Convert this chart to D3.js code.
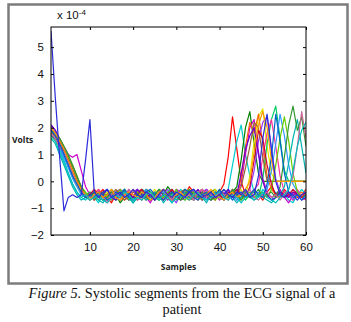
<!DOCTYPE html>
<html>
<head>
<meta charset="utf-8">
<script src="https://cdn.jsdelivr.net/npm/d3@7"></script>
<style>
  html, body { margin: 0; padding: 0; background: #fff; }
  #chart { width: 351px; height: 322px; }
</style>
</head>
<body>
<div id="chart"></div>
<script>
// Samples 1..60, values in units of 1e-4 V
const samples = d3.range(1, 61);
const xTicks = [10, 20, 30, 40, 50, 60];
const yTicks = [-2, -1, 0, 1, 2, 3, 4, 5];

const seriesColors = [
  '#ff0000', '#00cccc', '#008000', '#cc00cc', '#e6e600', '#ff6600', '#9933ff',
  '#00cc66', '#ff3399', '#3399ff', '#996633', '#66cc00', '#cc0033', '#00b3b3',
  '#6600cc', '#339933', '#cc6699', '#0066cc', '#ff9900', '#00bfbf', '#2b2bd9'
];

const s01 = [2.0,1.8,1.5,1.1,0.7,0.3,-0.1,-0.4,-0.6,-0.4, -0.7,-0.5,-0.3,-0.6,-0.8,-0.5,-0.3,-0.5,-0.7,-0.6, -0.4,-0.3,-0.6,-0.7,-0.5,-0.3,-0.5,-0.6,-0.4,-0.5, -0.7,-0.5,-0.2,-0.4,-0.6,-0.5,-0.3,-0.5,-0.7,-0.4, -0.1,0.9,2.4,1.2,0.0,-0.5,-0.6,-0.3,-0.5,-0.7, -0.4,-0.2,-0.5,-0.6,-0.3,-0.5,-0.4,-0.6,-0.5,-0.3];
const s02 = [1.9,1.6,1.2,0.8,0.3,-0.1,-0.4,-0.6,-0.7,-0.5, -0.6,-0.8,-0.5,-0.4,-0.6,-0.7,-0.4,-0.3,-0.6,-0.8, -0.6,-0.4,-0.5,-0.7,-0.6,-0.3,-0.4,-0.6,-0.8,-0.5, -0.3,-0.5,-0.6,-0.4,-0.6,-0.7,-0.5,-0.4,-0.6,-0.5, -0.6,-0.3,0.6,1.5,2.1,1.0,0.2,-0.4,-0.6,-0.3, -0.5,-0.7,-0.4,-0.6,-0.5,-0.7,-0.8,-0.5,-0.3,-0.5];
const s03 = [1.8,1.7,1.4,1.1,0.7,0.3,0.0,-0.3,-0.5,-0.6, -0.4,-0.6,-0.7,-0.5,-0.3,-0.5,-0.8,-0.6,-0.4,-0.5, -0.7,-0.5,-0.3,-0.4,-0.6,-0.7,-0.5,-0.2,-0.4,-0.6, -0.5,-0.3,-0.6,-0.7,-0.4,-0.5,-0.6,-0.4,-0.3,-0.6, -0.7,-0.5,-0.4,-0.2,0.8,2.0,2.6,1.4,0.3,0.0, 0.0,0.0,0.0,0.0,0.0,0.0,0.0,0.0,0.0,0.0];
const s04 = [2.1,1.9,1.6,1.3,1.0,0.9,1.0,0.4,-0.2,-0.5, -0.6,-0.4,-0.5,-0.7,-0.6,-0.4,-0.3,-0.5,-0.7,-0.6, -0.5,-0.4,-0.6,-0.8,-0.5,-0.4,-0.5,-0.7,-0.6,-0.3, -0.4,-0.6,-0.5,-0.3,-0.5,-0.7,-0.6,-0.4,-0.5,-0.7, -0.5,-0.3,-0.6,-0.4,-0.1,1.0,2.0,2.3,1.1,0.1, -0.4,-0.6,-0.5,-0.3,-0.6,-0.8,-0.5,-0.4,-0.6,-0.5];
const s05 = [1.7,1.5,1.3,1.0,0.6,0.2,-0.2,-0.4,-0.6,-0.5, -0.3,-0.5,-0.6,-0.4,-0.5,-0.7,-0.5,-0.3,-0.5,-0.6, -0.4,-0.6,-0.7,-0.5,-0.3,-0.5,-0.6,-0.4,-0.5,-0.7, -0.6,-0.4,-0.3,-0.5,-0.7,-0.6,-0.4,-0.5,-0.3,-0.6, -0.5,-0.7,-0.4,-0.5,-0.3,-0.6,0.2,1.5,2.4,2.7, 1.3,0.3,0.0,0.0,0.0,0.0,0.0,0.0,0.0,0.0];
const s06 = [1.9,1.8,1.5,1.2,0.9,0.5,0.1,-0.3,-0.5,-0.6, -0.5,-0.3,-0.5,-0.7,-0.5,-0.4,-0.6,-0.7,-0.5,-0.3, -0.5,-0.6,-0.4,-0.5,-0.7,-0.5,-0.3,-0.6,-0.7,-0.5, -0.4,-0.5,-0.7,-0.6,-0.4,-0.3,-0.5,-0.6,-0.5,-0.4, -0.6,-0.5,-0.3,-0.5,0.1,1.3,2.2,1.8,2.5,1.4, 0.2,-0.3,-0.5,-0.6,-0.4,-0.5,-0.7,-0.5,-0.4,-0.6];
const s07 = [2.0,1.7,1.3,0.9,0.6,0.2,-0.1,-0.3,-0.5,-0.7, -0.6,-0.4,-0.6,-0.5,-0.7,-0.6,-0.4,-0.5,-0.6,-0.4, -0.3,-0.5,-0.7,-0.6,-0.4,-0.6,-0.5,-0.3,-0.6,-0.8, -0.5,-0.4,-0.6,-0.5,-0.7,-0.4,-0.3,-0.5,-0.6,-0.5, -0.4,-0.6,-0.5,-0.7,-0.4,-0.5,-0.3,0.4,1.5,2.2, 2.4,1.2,0.1,-0.4,-0.6,-0.5,-0.7,-0.4,-0.6,-0.5];
const s08 = [1.8,1.6,1.4,1.0,0.7,0.4,0.0,-0.3,-0.5,-0.4, -0.6,-0.7,-0.5,-0.3,-0.5,-0.6,-0.5,-0.4,-0.7,-0.6, -0.5,-0.3,-0.4,-0.6,-0.5,-0.7,-0.6,-0.4,-0.3,-0.5, -0.6,-0.7,-0.5,-0.4,-0.5,-0.3,-0.6,-0.7,-0.5,-0.4, -0.5,-0.6,-0.4,-0.3,-0.5,-0.7,-0.5,-0.4,-0.6,0.1, 1.4,2.3,2.8,1.6,0.4,0.0,0.0,0.0,0.0,0.0];
const s09 = [1.9,1.7,1.4,1.2,0.8,0.5,0.1,-0.2,-0.5,-0.6, -0.5,-0.3,-0.6,-0.8,-0.6,-0.4,-0.5,-0.6,-0.3,-0.5, -0.7,-0.6,-0.4,-0.5,-0.6,-0.4,-0.7,-0.5,-0.3,-0.5, -0.6,-0.5,-0.4,-0.7,-0.5,-0.3,-0.5,-0.6,-0.4,-0.6, -0.7,-0.5,-0.3,-0.5,-0.6,-0.4,-0.5,-0.3,-0.1,0.9, 1.8,2.3,1.3,0.2,-0.4,-0.6,-0.5,-0.3,-0.6,-0.7];
const s10 = [1.8,1.6,1.3,0.9,0.5,0.1,-0.2,-0.5,-0.6,-0.5, -0.4,-0.6,-0.7,-0.5,-0.4,-0.6,-0.5,-0.3,-0.5,-0.7, -0.6,-0.5,-0.3,-0.6,-0.7,-0.5,-0.4,-0.5,-0.6,-0.4, -0.5,-0.6,-0.4,-0.3,-0.6,-0.5,-0.7,-0.5,-0.4,-0.6, -0.5,-0.3,-0.5,-0.7,-0.6,-0.4,-0.5,-0.6,-0.4,-0.5, -0.3,0.4,1.4,2.5,1.7,0.6,-0.1,-0.4,-0.6,-0.5];
const s11 = [1.8,1.7,1.5,1.2,0.9,0.6,0.2,-0.2,-0.5,-0.5, -0.7,-0.5,-0.4,-0.6,-0.5,-0.3,-0.5,-0.7,-0.6,-0.4, -0.5,-0.7,-0.5,-0.4,-0.6,-0.5,-0.3,-0.5,-0.7,-0.6, -0.4,-0.3,-0.5,-0.6,-0.5,-0.7,-0.4,-0.5,-0.6,-0.3, -0.5,-0.6,-0.4,-0.5,-0.2,0.5,1.3,2.2,2.0,0.9, 0.0,0.0,0.0,0.0,0.0,0.0,0.0,0.0,0.0,0.0];
const s12 = [2.0,1.8,1.6,1.3,0.9,0.5,0.1,-0.2,-0.4,-0.6, -0.5,-0.6,-0.4,-0.6,-0.7,-0.5,-0.3,-0.6,-0.5,-0.6, -0.4,-0.5,-0.6,-0.4,-0.5,-0.7,-0.6,-0.4,-0.5,-0.3, -0.6,-0.7,-0.5,-0.4,-0.5,-0.6,-0.4,-0.6,-0.7,-0.5, -0.3,-0.5,-0.6,-0.4,-0.7,-0.5,-0.4,-0.6,-0.5,-0.4, -0.6,-0.3,0.6,1.6,2.4,1.5,0.3,-0.4,-0.6,-0.5];
const s13 = [1.7,1.6,1.3,1.1,0.8,0.4,0.0,-0.3,-0.6,-0.5, -0.3,-0.5,-0.6,-0.5,-0.4,-0.6,-0.7,-0.5,-0.4,-0.6, -0.5,-0.3,-0.5,-0.6,-0.4,-0.5,-0.7,-0.5,-0.3,-0.6, -0.5,-0.4,-0.6,-0.7,-0.5,-0.4,-0.5,-0.6,-0.4,-0.5, -0.7,-0.4,-0.5,-0.3,-0.5,-0.6,-0.2,0.8,1.9,1.6, 0.6,-0.1,-0.5,-0.4,-0.6,-0.5,-0.3,-0.5,-0.6,-0.4];
const s14 = [1.6,1.4,1.0,0.6,0.2,-0.2,-0.5,-0.7,-0.6,-0.7, -0.5,-0.7,-0.8,-0.6,-0.5,-0.7,-0.6,-0.4,-0.6,-0.8, -0.6,-0.5,-0.7,-0.6,-0.4,-0.5,-0.8,-0.6,-0.5,-0.7, -0.6,-0.4,-0.6,-0.7,-0.5,-0.6,-0.8,-0.5,-0.4,-0.6, -0.7,-0.5,-0.6,-0.8,-0.6,-0.4,-0.6,-0.7,-0.5,-0.6, -0.7,-0.8,-0.6,-0.5,-0.2,0.7,1.6,2.3,1.3,0.3];
const s15 = [2.1,1.9,1.5,1.2,0.8,0.4,0.0,-0.4,-0.6,-0.5, -0.4,-0.6,-0.5,-0.3,-0.6,-0.7,-0.5,-0.4,-0.5,-0.6, -0.3,-0.5,-0.6,-0.5,-0.7,-0.4,-0.5,-0.6,-0.4,-0.5, -0.7,-0.6,-0.4,-0.5,-0.3,-0.5,-0.6,-0.7,-0.5,-0.4, -0.5,-0.3,-0.6,-0.5,0.3,1.2,1.7,2.0,1.0,0.0, -0.5,-0.7,-0.6,-0.4,-0.5,-0.6,-0.4,-0.5,-0.7,-0.6];
const s16 = [1.9,1.8,1.6,1.3,1.0,0.6,0.2,-0.2,-0.5,-0.6, -0.4,-0.5,-0.7,-0.6,-0.4,-0.5,-0.6,-0.3,-0.5,-0.7, -0.5,-0.4,-0.6,-0.7,-0.5,-0.3,-0.5,-0.6,-0.4,-0.6, -0.7,-0.5,-0.3,-0.5,-0.6,-0.4,-0.5,-0.7,-0.6,-0.4, -0.5,-0.6,-0.3,-0.5,-0.7,-0.4,-0.6,-0.5,-0.3,-0.6, -0.5,-0.4,-0.6,-0.2,0.9,2.1,2.8,1.9,2.4,1.3];
const s17 = [1.8,1.6,1.3,1.1,0.7,0.3,-0.1,-0.4,-0.5,-0.6, -0.5,-0.4,-0.6,-0.7,-0.5,-0.4,-0.6,-0.5,-0.3,-0.5, -0.6,-0.7,-0.4,-0.5,-0.6,-0.5,-0.3,-0.5,-0.7,-0.5, -0.4,-0.6,-0.5,-0.7,-0.4,-0.3,-0.6,-0.5,-0.6,-0.4, -0.5,-0.7,-0.5,-0.6,-0.4,-0.5,-0.3,-0.6,-0.7,-0.5, -0.4,-0.6,-0.5,-0.7,-0.5,-0.3,0.2,1.3,2.6,1.6];
const s18 = [1.9,1.7,1.4,1.0,0.6,0.2,-0.1,-0.4,-0.6,-0.5, -0.6,-0.4,-0.5,-0.7,-0.6,-0.4,-0.5,-0.3,-0.6,-0.7, -0.5,-0.6,-0.4,-0.3,-0.5,-0.6,-0.7,-0.5,-0.4,-0.6, -0.5,-0.3,-0.4,-0.6,-0.7,-0.5,-0.4,-0.6,-0.5,-0.3, -0.6,-0.5,-0.7,-0.5,-0.4,-0.6,-0.5,-0.3,-0.5,-0.6, -0.1,0.9,2.5,1.5,0.3,-0.4,-0.6,-0.5,-0.7,-0.5];
const s19 = [2.0,1.8,1.5,1.2,0.8,0.4,0.0,-0.3,-0.5,-0.7, -0.5,-0.4,-0.6,-0.5,-0.3,-0.6,-0.7,-0.5,-0.4,-0.5, -0.6,-0.4,-0.5,-0.7,-0.6,-0.4,-0.3,-0.5,-0.6,-0.5, -0.4,-0.6,-0.7,-0.5,-0.4,-0.6,-0.5,-0.3,-0.5,-0.6, -0.7,-0.5,-0.4,-0.6,-0.5,-0.3,0.0,1.1,2.1,2.6, 2.0,0.8,0.0,0.0,0.0,0.0,0.0,0.0,0.0,0.0];
const s20 = [1.7,1.5,1.1,0.7,0.3,-0.1,-0.4,-0.6,-0.5,-0.7, -0.6,-0.5,-0.7,-0.8,-0.6,-0.5,-0.6,-0.4,-0.5,-0.7, -0.6,-0.7,-0.5,-0.4,-0.6,-0.7,-0.5,-0.6,-0.8,-0.6, -0.5,-0.6,-0.7,-0.5,-0.4,-0.6,-0.7,-0.6,-0.5,-0.4, -0.6,-0.7,-0.5,-0.6,-0.8,-0.6,-0.5,-0.7,-0.6,-0.4, -0.6,-0.7,-0.8,-0.6,-0.5,-0.3,0.4,1.3,1.9,2.2];
// the outlier segment (blue) with the large first sample
const s21 = [5.6,3.1,0.9,-1.1,-0.6,-0.5,-0.6,-0.5,0.8,2.3, -0.4,-0.6,-0.4,-0.3,-0.6,-0.5,-0.4,-0.6,-0.5,-0.3, -0.5,-0.6,-0.4,-0.5,-0.7,-0.5,-0.3,-0.5,-0.6,-0.4, -0.5,-0.6,-0.4,-0.3,-0.5,-0.6,-0.5,-0.4,-0.6,-0.5, -0.3,-0.5,-0.6,-0.4,-0.5,-0.3,-0.6,-0.5,0.2,1.6, 2.5,1.2,0.0,-0.5,-0.6,-0.4,-0.5,-0.7,-0.5,-0.4];

const segments = [s01, s02, s03, s04, s05, s06, s07, s08, s09, s10,
  s11, s12, s13, s14, s15, s16, s17, s18, s19, s20, s21];

const width = 351;
const height = 322;
const margin = { top: 27, right: 45, bottom: 87, left: 51 };
const innerW = width - margin.left - margin.right;
const innerH = height - margin.top - margin.bottom;

const svg = d3.select('#chart').append('svg')
  .attr('width', width)
  .attr('height', height)
  .attr('font-family', 'Liberation Sans, Arial, sans-serif');

svg.append('rect').attr('width', width).attr('height', height).attr('fill', '#fff');

// grey frame round the figure
svg.append('rect')
  .attr('x', 8.5).attr('y', 4.5)
  .attr('width', 339).attr('height', 279)
  .attr('fill', 'none')
  .attr('stroke', '#7c7c7c')
  .attr('stroke-width', 2.5);

const g = svg.append('g').attr('transform', `translate(${margin.left},${margin.top})`);

const x = d3.scaleLinear().domain([1, 60]).range([0, innerW]);
const y = d3.scaleLinear().domain([-2, 5.75]).range([innerH, 0]);

g.append('defs').append('clipPath').attr('id', 'clip')
  .append('rect').attr('width', innerW).attr('height', innerH);

const line = d3.line()
  .x((v, i) => x(samples[i]))
  .y((v) => y(v));

g.append('g').attr('clip-path', 'url(#clip)')
  .selectAll('path.seg')
  .data(segments)
  .join('path')
  .attr('class', 'seg')
  .attr('d', (d) => line(d))
  .attr('fill', 'none')
  .attr('stroke', (d, i) => seriesColors[i % seriesColors.length])
  .attr('stroke-width', 1.2)
  .attr('stroke-linejoin', 'round');

// axes with inward ticks (box on)
const tickLen = 3;
const axisStyle = (sel) => {
  sel.select('.domain').remove();
  sel.selectAll('line').attr('stroke', '#000');
};

g.append('g')
  .attr('transform', `translate(0,${innerH})`)
  .call(d3.axisBottom(x).tickValues(xTicks).tickSizeInner(-tickLen).tickSizeOuter(0).tickPadding(8))
  .call(axisStyle)
  .selectAll('text')
  .attr('font-size', 11.5)
  .attr('fill', '#111');

g.append('g')
  .call(d3.axisTop(x).tickValues(xTicks).tickSizeInner(-tickLen).tickSizeOuter(0).tickFormat(''))
  .call(axisStyle);

g.append('g')
  .call(d3.axisLeft(y).tickValues(yTicks).tickSizeInner(-tickLen).tickSizeOuter(0).tickPadding(7))
  .call(axisStyle)
  .selectAll('text')
  .attr('font-size', 11.5)
  .attr('fill', '#111');

g.append('g')
  .attr('transform', `translate(${innerW},0)`)
  .call(d3.axisRight(y).tickValues(yTicks).tickSizeInner(-tickLen).tickSizeOuter(0).tickFormat(''))
  .call(axisStyle);

g.append('rect')
  .attr('width', innerW).attr('height', innerH)
  .attr('fill', 'none').attr('stroke', '#000').attr('stroke-width', 1);

// exponent label
const expo = svg.append('text')
  .attr('x', 57).attr('y', 19)
  .attr('font-size', 11.5)
  .attr('fill', '#111');
expo.append('tspan').text('x 10');
expo.append('tspan').attr('dy', -4).attr('font-size', 8).text('-4');

svg.append('text')
  .attr('x', 12).attr('y', 143)
  .attr('font-size', 8.5)
  .attr('font-weight', 'bold')
  .attr('font-family', 'Open Sans, sans-serif')
  .attr('fill', '#222')
  .text('Volts');

svg.append('text')
  .attr('x', margin.left + innerW / 2).attr('y', 270)
  .attr('text-anchor', 'middle')
  .attr('font-size', 8.5)
  .attr('font-weight', 'bold')
  .attr('font-family', 'Open Sans, sans-serif')
  .attr('fill', '#222')
  .text('Samples');

// caption under the frame
const cap = svg.append('text')
  .attr('x', 182).attr('y', 298)
  .attr('text-anchor', 'middle')
  .attr('font-family', 'Liberation Serif, Times New Roman, serif')
  .attr('font-size', 14.3)
  .attr('fill', '#111');
cap.append('tspan').attr('font-style', 'italic').text('Figure 5.');
cap.append('tspan').text(' Systolic segments from the ECG signal of a');

svg.append('text')
  .attr('x', 182).attr('y', 314)
  .attr('text-anchor', 'middle')
  .attr('font-family', 'Liberation Serif, Times New Roman, serif')
  .attr('font-size', 14.3)
  .attr('fill', '#111')
  .text('patient');
</script>
</body>
</html>
